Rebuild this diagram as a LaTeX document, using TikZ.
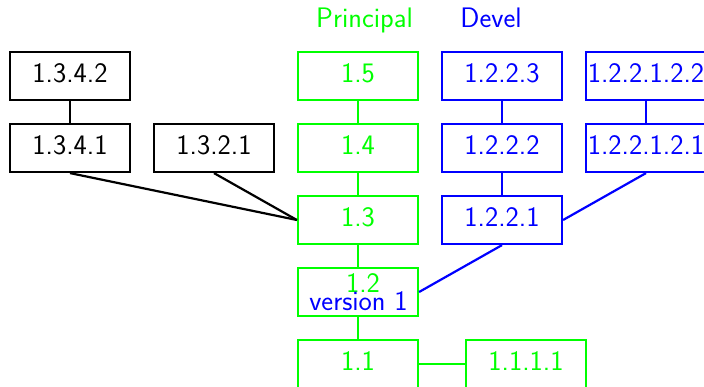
\documentclass[tikz,border=0pt]{standalone}
\definecolor{pgreen}{RGB}{0,255,0}
\definecolor{pblue}{RGB}{0,0,255}
\begin{document}
\begin{tikzpicture}[x=1pt,y=-1pt,
  every node/.style={font=\fontsize{28.2}{34}\selectfont\sffamily},
  vbox/.style={draw,line width=2.2pt,minimum width=120pt,minimum height=48pt,inner sep=0pt,text depth=6.3pt},
  blk/.style={vbox,draw=black,text=black},
  grn/.style={vbox,draw=pgreen,text=pgreen},
  blu/.style={vbox,draw=pblue,text=pblue},
  lnk/.style={line width=2.2pt}]
\useasboundingbox (0,0) rectangle (704,387);
% titles
\node[text=pgreen,anchor=base] (tp) at (364.5,28) {Principal};
\node[text=pblue,anchor=base] (td) at (491,28) {Devel};
% black
\node[blk] (a342) at (70,76) {1.3.4.2};
\node[blk] (a341) at (70,148) {1.3.4.1};
\node[blk] (a321) at (214,148) {1.3.2.1};
% green trunk
\node[grn] (v15) at (358,76) {1.5};
\node[grn] (v14) at (358,148) {1.4};
\node[grn] (v13) at (358,220) {1.3};
\node[grn] (v12) at (358,292) {};
\node[text=pgreen,anchor=base] (v12t) at (363,293) {1.2};
\node[text=pblue,anchor=base] (v12v) at (358.5,310) {version 1};
\node[grn] (v11) at (358,364) {1.1};
\node[grn] (v1111) at (526,364) {1.1.1.1};
% blue
\node[blu] (b1223) at (502,76) {1.2.2.3};
\node[blu] (b1222) at (502,148) {1.2.2.2};
\node[blu] (b1221) at (502,220) {1.2.2.1};
\node[blu] (c122) at (646,76) {1.2.2.1.2.2};
\node[blu] (c121) at (646,148) {1.2.2.1.2.1};
% links
\draw[lnk] (a342) -- (a341);
\draw[lnk] (a341.south) -- (v13.west);
\draw[lnk] (a321.south) -- (v13.west);
\draw[lnk,pgreen] (v15) -- (v14);
\draw[lnk,pgreen] (v14) -- (v13);
\draw[lnk,pgreen] (v13) -- (v12);
\draw[lnk,pgreen] (v12) -- (v11);
\draw[lnk,pgreen] (v11) -- (v1111);
\draw[lnk,pblue] (b1223) -- (b1222);
\draw[lnk,pblue] (b1222) -- (b1221);
\draw[lnk,pblue] (b1221.south) -- (v12.east);
\draw[lnk,pblue] (c122) -- (c121);
\draw[lnk,pblue] (c121.south) -- (b1221.east);
\end{tikzpicture}
\end{document}
